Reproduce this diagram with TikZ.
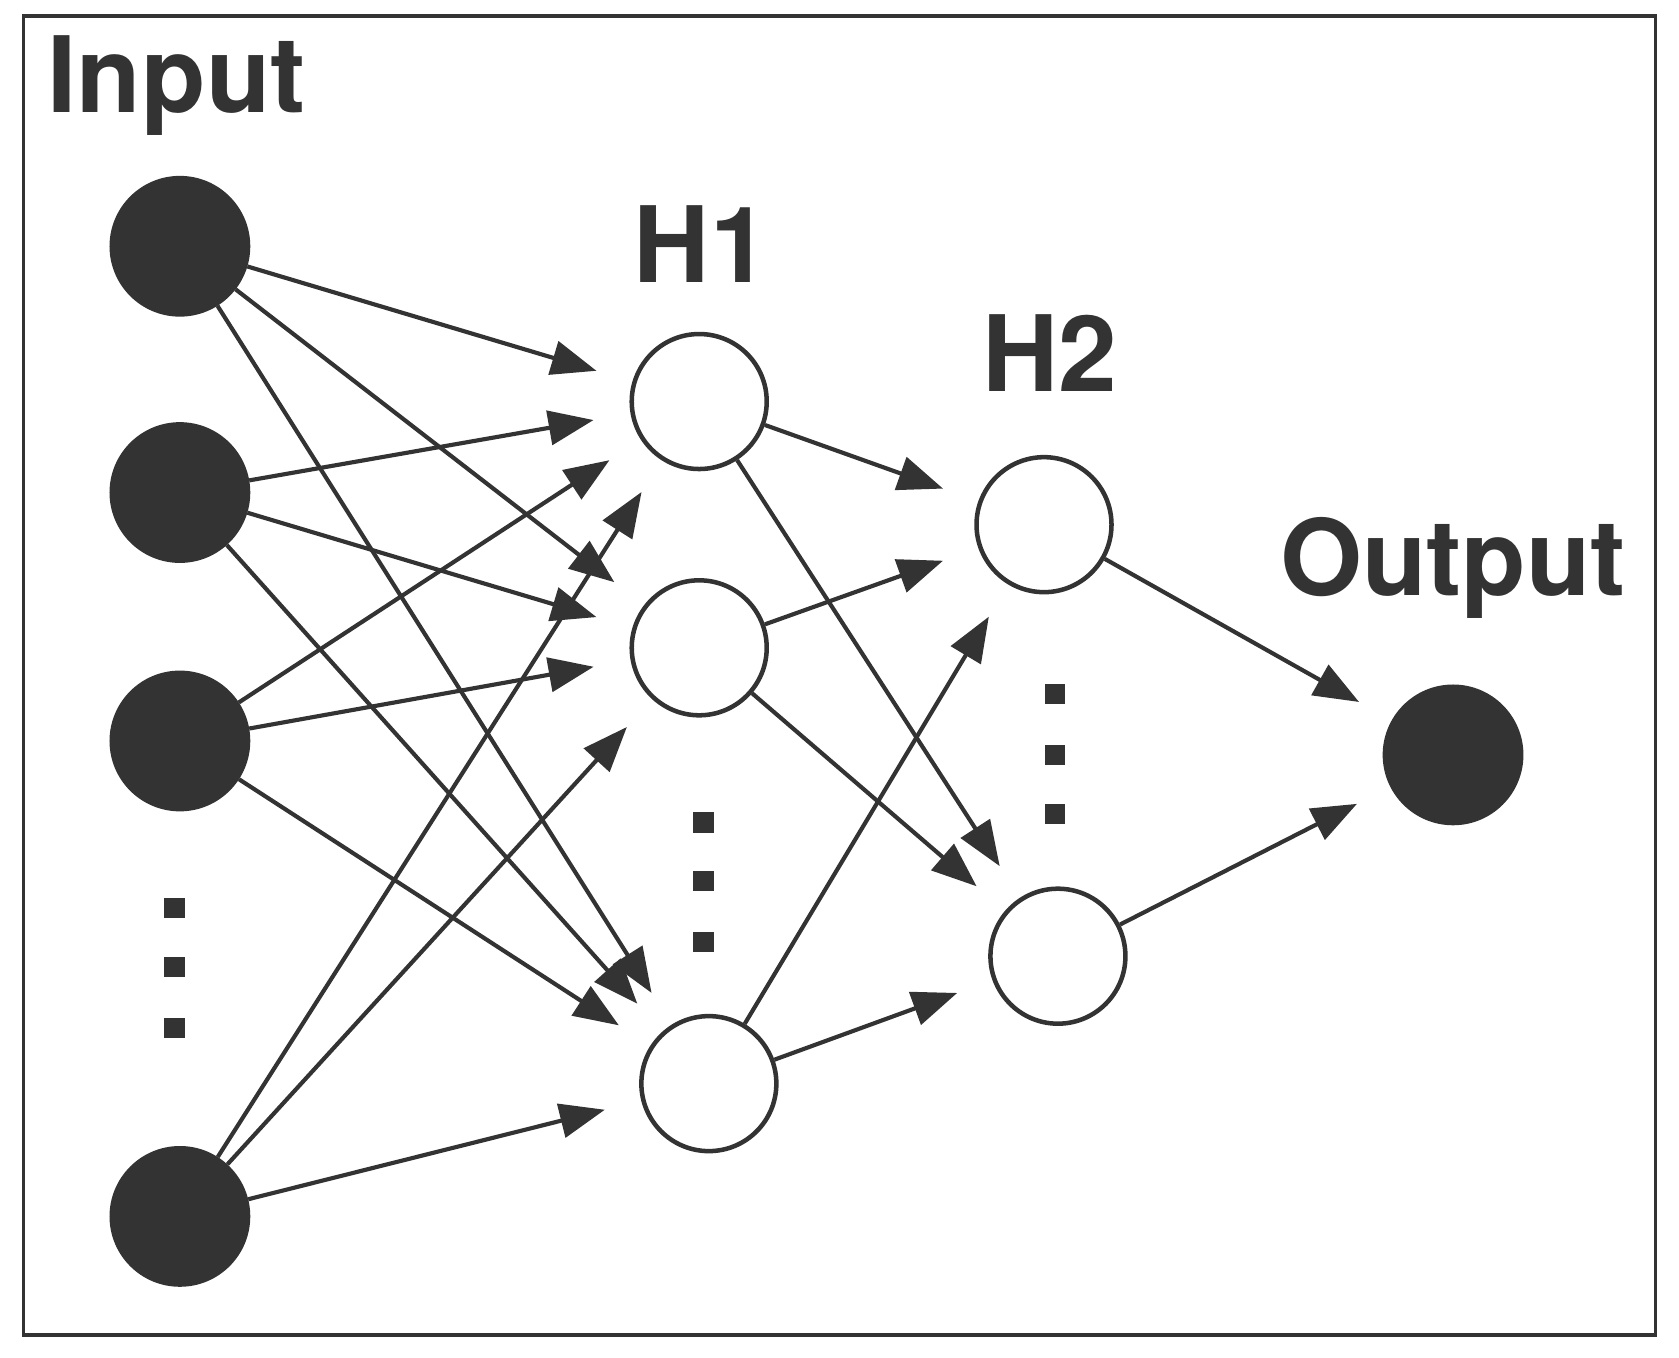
\documentclass[tikz,border=0pt]{standalone}
\usepackage{fontspec}
\setmainfont{TeX Gyre Heros}
\usetikzlibrary{arrows.meta}
\tikzset{
  full/.style={circle,draw=black!80,fill=black!80,minimum size=1.3cm,inner sep=0pt},
  empty/.style={circle,draw=black!80,fill=white,line width=1.2pt,minimum size=1.26cm,inner sep=0pt},
  conn/.style={draw=black!80,line width=1.1pt,shorten >=0.35cm,
    -{Triangle[length=0.42cm,width=0.32cm]}},
  lbl/.style={text=black!80,font=\fontsize{28}{30}\selectfont\bfseries},
  dot/.style={fill=black!80,minimum size=0.19cm,inner sep=0pt}
}
\begin{document}
\begin{tikzpicture}[x=0.01cm,y=-0.01cm]
\useasboundingbox (0,0) rectangle (1568,1268);
\draw[black!80,line width=1pt] (22,15) rectangle (1546,1247);
\node[lbl] (tin) at (165,80) {Input};
\node[lbl] (th1) at (655,228) {H1};
\node[lbl] (th2) at (980,330) {H2};
\node[lbl] (tout) at (1357,530) {Output};
\node[full] (i1) at (168,230) {};
\node[full] (i2) at (168,460) {};
\node[full] (i3) at (168,692) {};
\node[full] (i4) at (168,1136) {};
\node[empty] (h1) at (653,375) {};
\node[empty] (h2) at (653,605) {};
\node[empty] (h3) at (662,1012) {};
\node[empty] (g1) at (975,490) {};
\node[empty] (g2) at (988,893) {};
\node[full] (o) at (1357,705) {};
\foreach \y in {848,903,960} \node[dot] at (163,\y) {};
\foreach \y in {768,823,880} \node[dot] at (657,\y) {};
\foreach \y in {648,705,760} \node[dot] at (985,\y) {};
\foreach \a in {i1,i2,i3,i4}
  \foreach \b in {h1,h2,h3}
    \draw[conn] (\a)--(\b);
\foreach \a in {h1,h2,h3}
  \foreach \b in {g1,g2}
    \draw[conn] (\a)--(\b);
\draw[conn] (g1)--(o);
\draw[conn] (g2)--(o);
\end{tikzpicture}
\end{document}
